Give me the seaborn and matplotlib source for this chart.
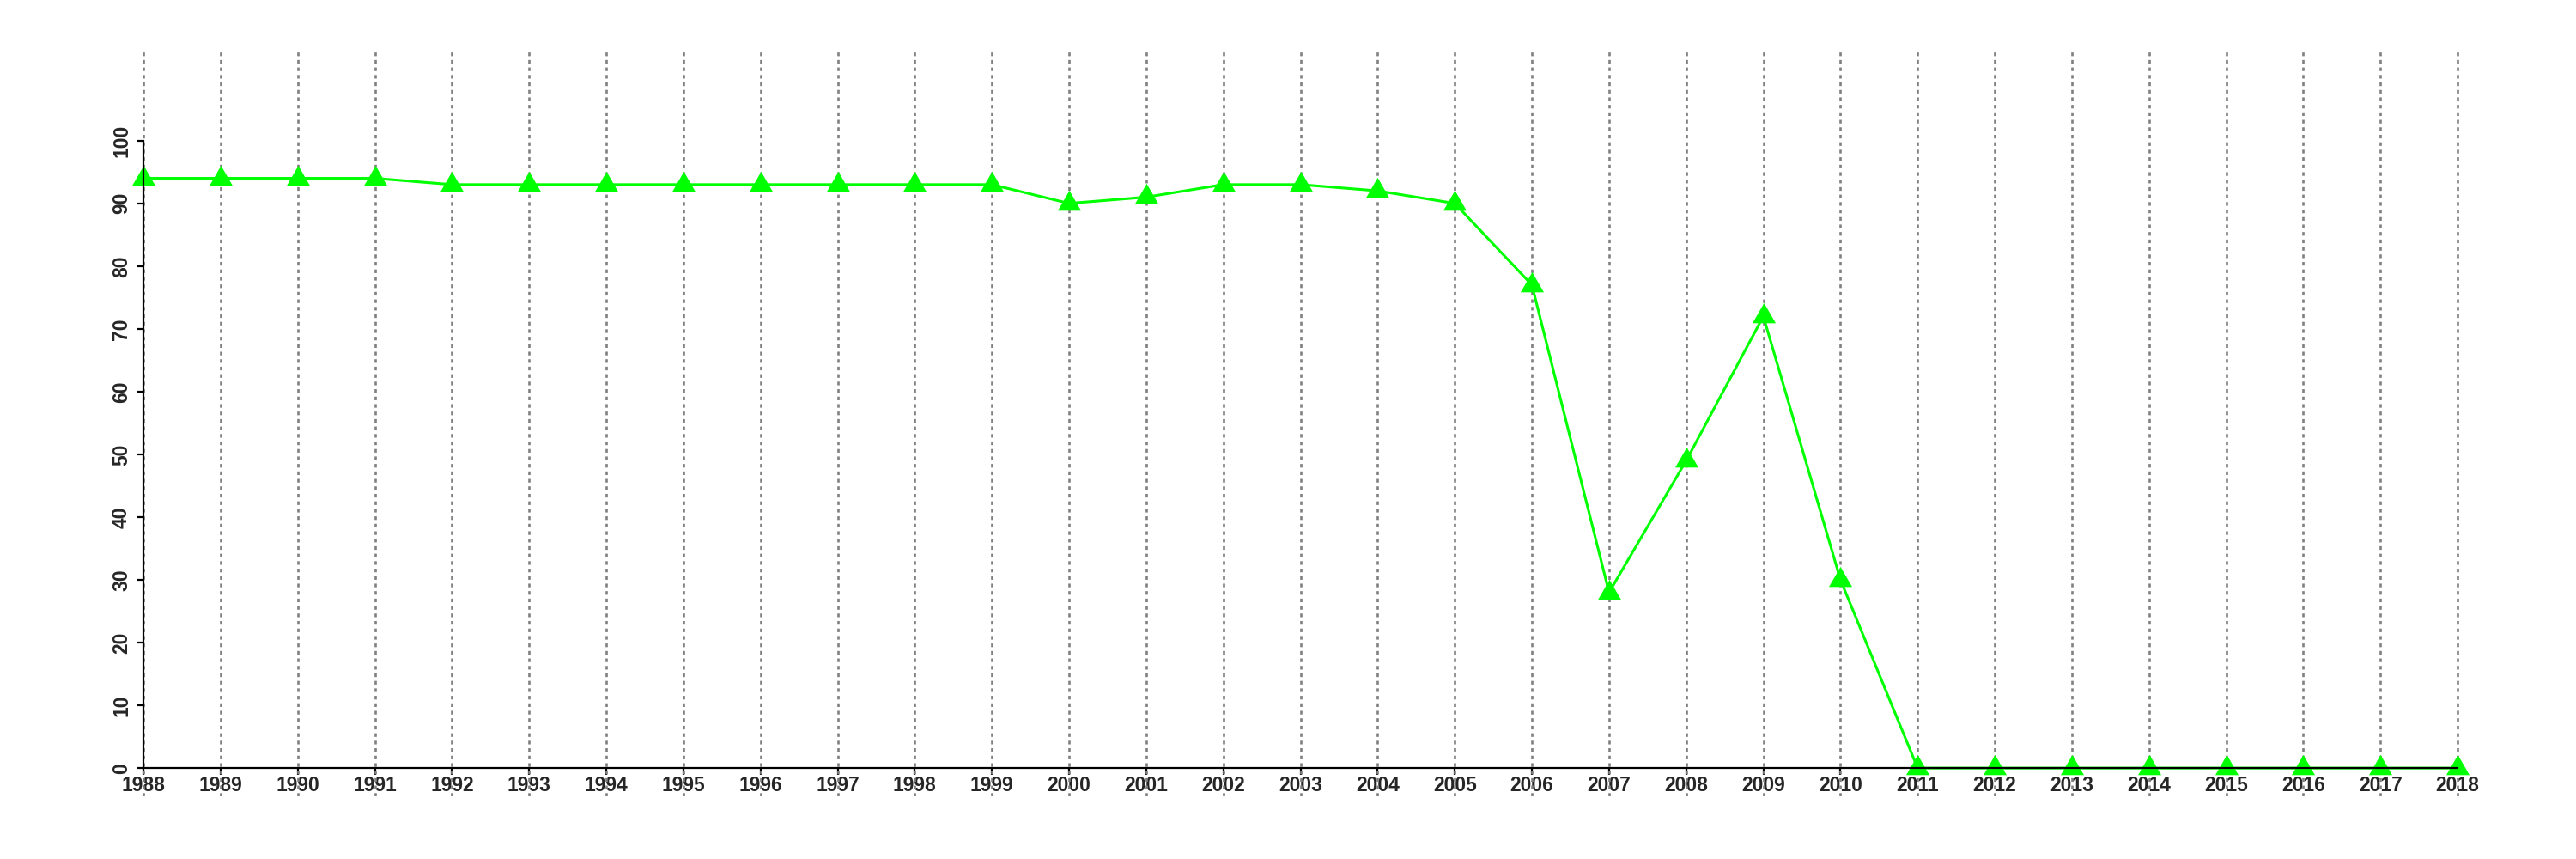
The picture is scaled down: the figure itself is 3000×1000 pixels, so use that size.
import matplotlib
matplotlib.use("Agg")
import matplotlib.pyplot as plt
import seaborn as sns
import pandas as pd

years = list(range(1988, 2019))
values = [94, 94, 94, 94, 93, 93, 93, 93, 93, 93, 93, 93, 90, 91, 93, 93, 92, 90,
          77, 28, 49, 72, 30, 0, 0, 0, 0, 0, 0, 0, 0]
y_ticks = list(range(0, 101, 10))

df = pd.DataFrame({"year": years, "value": values})

sns.set_style("white")
plt.rcParams["font.family"] = ["Liberation Sans", "DejaVu Sans"]
plt.rcParams["font.weight"] = "bold"

fig = plt.figure(figsize=(30, 10), dpi=100)
ax = fig.add_axes([0.0377, 0.073, 0.972 - 0.0377, 0.867])

for s in ["top", "right"]:
    ax.spines[s].set_visible(False)
ax.spines["bottom"].set_position(("data", 0))
ax.spines["left"].set_position(("data", years[0]))

tri = [(0, 1), (-0.866, -0.5), (0.866, -0.5)]
sns.lineplot(data=df, x="year", y="value", ax=ax, color="#00FF00", linewidth=2.2,
             marker=tri, markersize=22.5, markeredgewidth=0,
             markerfacecolor="#00FF00", clip_on=False, zorder=2)

ax.grid(False)
for x in years:
    ax.axvline(x, color="#808080", linewidth=1.9, linestyle=(0, (1.6, 1.7)), zorder=1)

ax.set_xlim(1987.4, 2018.6)
ax.set_ylim(-4.5, 114.2)
ax.set_xlabel("")
ax.set_ylabel("")

ax.spines["left"].set_bounds(0, 100)
ax.spines["bottom"].set_bounds(1988, 2018)
for s in ["left", "bottom"]:
    ax.spines[s].set_color("black")
    ax.spines[s].set_linewidth(1.6)
    ax.spines[s].set_zorder(3)

ax.set_xticks(years)
ax.set_xticklabels([str(y) for y in years], fontweight="bold", fontsize=16.5)
ax.set_yticks(y_ticks)
ax.set_yticklabels([str(v) for v in y_ticks], fontweight="bold", fontsize=16.5,
                   rotation=90, va="center")

ax.tick_params(axis="both", which="major", length=6, width=1.6, color="black",
               direction="out")
ax.tick_params(axis="x", pad=0.5, bottom=True)
ax.tick_params(axis="y", pad=4, left=True)

fig.savefig("out.png", dpi=100, facecolor="white")
